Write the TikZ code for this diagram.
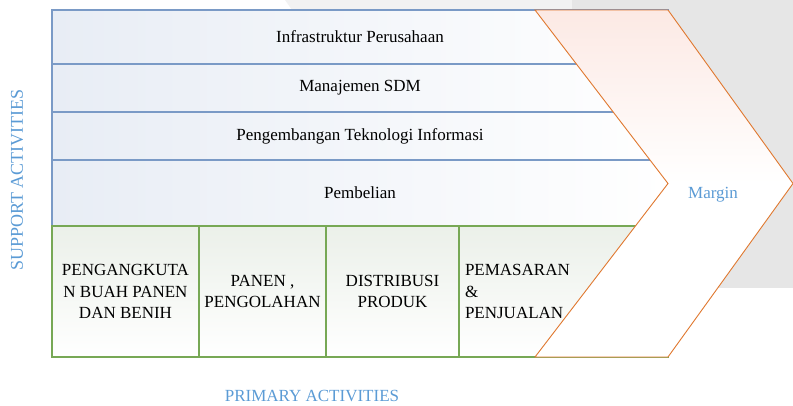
\documentclass[tikz,border=0pt]{standalone}
\usepackage{fontspec}
\setmainfont{Liberation Serif}
\usepackage{color}

\definecolor{rowline}{HTML}{7A9AC6}
\definecolor{rowfill}{HTML}{E8EDF5}
\definecolor{cellline}{HTML}{77A855}
\definecolor{cellfill}{HTML}{EBF0E9}
\definecolor{marginline}{HTML}{E0782F}
\definecolor{marginfill}{HTML}{FCE9E4}
\definecolor{labelblue}{HTML}{5B9BD5}
\definecolor{bgdark}{HTML}{E6E6E6}
\definecolor{bglight}{HTML}{F2F2F2}

\begin{document}
\begin{tikzpicture}[x = 1pt, y = -1pt,
  support/.style = {rectangle, draw = rowline, line width = 1.3pt, left color = rowfill, right color = white, minimum width = 616pt, inner sep = 0pt, font = \fontsize{17}{21.5}\selectfont},
  primary/.style = {rectangle, draw = cellline, line width = 1.3pt, top color = cellfill, bottom color = white, minimum height = 131pt, inner sep = 0pt, align = center, font = \fontsize{17}{21.5}\selectfont},
  sidelabel/.style = {text = labelblue, inner sep = 0pt, font = \fontsize{17}{21}\selectfont}]

\useasboundingbox (0, 0) rectangle (793, 405);

% background
\fill[bglight] (285, 0) -- (572, 0) -- (572, 10) -- (292, 10) -- cycle;
\fill[bgdark] (572, 0) -- (793, 0) -- (793, 288) -- (572, 288) -- cycle;

% support activities
\node[support, minimum height = 54pt] (infra) at (360, 37) {Infrastruktur Perusahaan};
\node[support, minimum height = 48pt] (sdm) at (360, 88) {Manajemen SDM};
\node[support, minimum height = 48pt] (ti) at (360, 136) {Pengembangan Teknologi Informasi};
\node[support, minimum height = 66pt] (beli) at (360, 193) {Pembelian};

% primary activities
\node[primary, minimum width = 147pt] (angkut) at (125.5, 291.5) {PENGANGKUTA\\N BUAH PANEN\\DAN BENIH};
\node[primary, minimum width = 127pt] (panen) at (262.5, 291.5) {PANEN ,\\PENGOLAHAN};
\node[primary, minimum width = 133pt] (distribusi) at (392.5, 291.5) {DISTRIBUSI\\PRODUK};
\node[primary, minimum width = 209pt, text width = 197pt, inner xsep = 6pt, align = left] (pasar) at (563.5, 291.5) {PEMASARAN\\\&\\PENJUALAN};

% margin chevron
\path[draw = marginline, line width = 0.9pt, top color = marginfill, bottom color = white, middle color = white]
  (535, 10) -- (668, 10) -- (793, 183.5) -- (668, 357) -- (535, 357) -- (668, 183.5) -- cycle;
\node[sidelabel] (margin) at (713, 195) {Margin};

% labels
\node[sidelabel, rotate = 90, font = \fontsize{18}{21}\selectfont] (supportlabel) at (17, 180) {SUPPORT ACTIVITIES};
\node[sidelabel] (primarylabel) at (312, 396) {PRIMARY ACTIVITIES};

\end{tikzpicture}
\end{document}
